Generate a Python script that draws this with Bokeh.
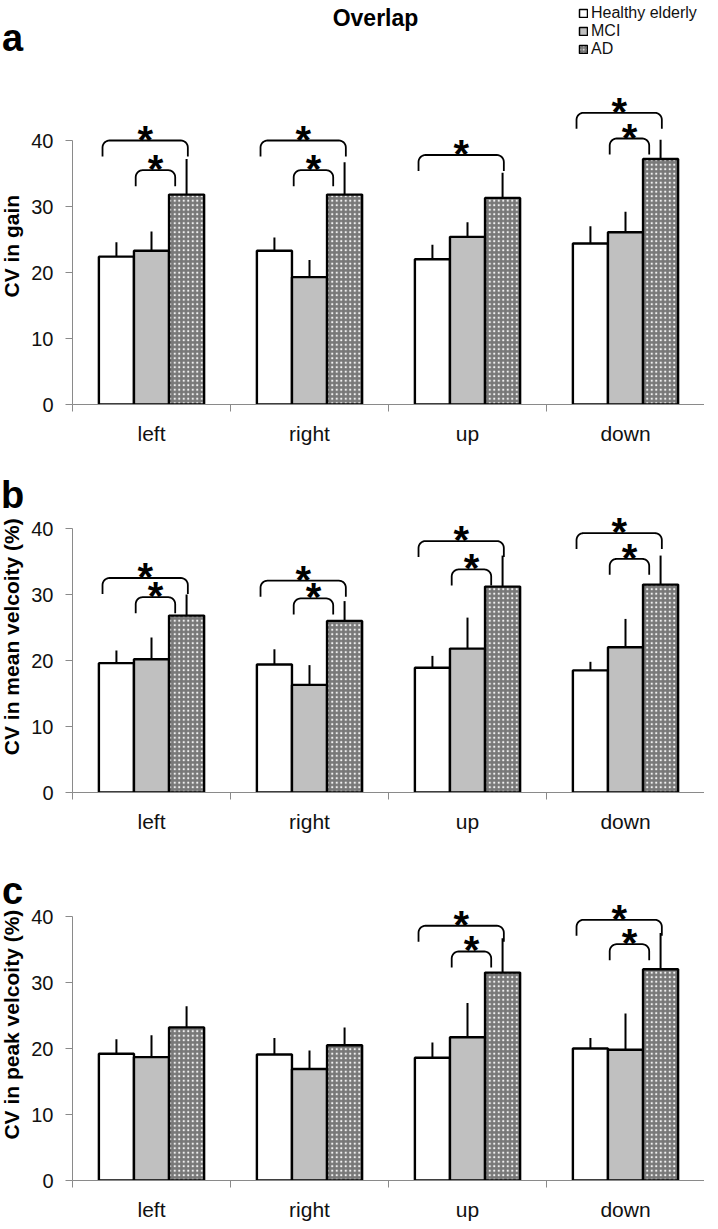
import math
from bokeh.plotting import figure
from bokeh.models import (ColumnDataSource, LinearAxis, FixedTicker, Range1d,
                          Label, Legend, LegendItem)
from bokeh.layouts import column, row
from bokeh.embed import file_html
from bokeh.resources import INLINE
from bokeh.core.properties import value

# ---------------- data ----------------
directions = ["left", "right", "up", "down"]
groups = ["Healthy elderly", "MCI", "AD"]
y_ticks = [0, 10, 20, 30, 40]

# panel a: CV in gain
gain_healthy = [22.4, 23.3, 22.0, 24.4]
gain_healthy_err = [2.2, 2.0, 2.2, 2.6]
gain_mci = [23.3, 19.3, 25.4, 26.1]
gain_mci_err = [2.9, 2.6, 2.2, 3.1]
gain_ad = [31.8, 31.8, 31.3, 37.2]
gain_ad_err = [5.4, 4.9, 3.8, 2.9]
gain_outer_dir = ["left", "right", "up", "down"]
gain_outer_y = [40.0, 40.0, 37.8, 44.2]
gain_inner_dir = ["left", "right", "down"]
gain_inner_y = [35.5, 35.5, 40.3]

# panel b: CV in mean velocity
mean_healthy = [19.6, 19.4, 18.9, 18.5]
mean_healthy_err = [1.9, 2.3, 1.8, 1.3]
mean_mci = [20.2, 16.3, 21.8, 22.0]
mean_mci_err = [3.3, 3.0, 4.7, 4.3]
mean_ad = [26.8, 26.0, 31.2, 31.5]
mean_ad_err = [3.2, 3.0, 4.7, 4.4]
mean_outer_dir = ["left", "right", "up", "down"]
mean_outer_y = [32.5, 32.1, 38.1, 39.3]
mean_inner_dir = ["left", "right", "up", "down"]
mean_inner_y = [29.6, 29.4, 33.8, 35.4]

# panel c: CV in peak velocity
peak_healthy = [19.2, 19.1, 18.6, 20.0]
peak_healthy_err = [2.2, 2.5, 2.3, 1.6]
peak_mci = [18.7, 16.9, 21.7, 19.8]
peak_mci_err = [3.3, 2.8, 5.2, 5.5]
peak_ad = [23.2, 20.5, 31.5, 32.0]
peak_ad_err = [3.2, 2.7, 5.2, 5.5]
peak_outer_dir = ["up", "down"]
peak_outer_y = [38.6, 39.5]
peak_inner_dir = ["up", "down"]
peak_inner_y = [34.7, 35.8]

# ---------------- style ----------------
LEFT_W = 28          # narrow figure holding the panel letter and y title
FRAME_W = 632
BORDER_L = 42
PX_X = FRAME_W / 4.0
PX_Y = 6.6
BAR_W = 0.222
OFFSETS = [-BAR_W, 0.0, BAR_W]
FILLS = ["white", "#c0c0c0", "#787878"]
HATCH = [None, None, "dot"]
AXIS_GRAY = "#8a8a8a"
FONT = "Liberation Sans"
OUTER_SPAN = (-0.31, 0.23)
INNER_SPAN = (-0.10, 0.15)
R_PX = 7.0
DROP_PX = 16.0
NAN = float("nan")


def bracket_path(xc, span, top):
    x0, x1 = xc + span[0], xc + span[1]
    rx, ry, drop = R_PX / PX_X, R_PX / PX_Y, DROP_PX / PX_Y
    xs, ys = [x0], [top - drop]
    n = 8
    for k in range(n + 1):
        t = math.pi - (math.pi / 2) * k / n
        xs.append(x0 + rx + rx * math.cos(t))
        ys.append(top - ry + ry * math.sin(t))
    for k in range(n + 1):
        t = math.pi / 2 - (math.pi / 2) * k / n
        xs.append(x1 - rx + rx * math.cos(t))
        ys.append(top - ry + ry * math.sin(t))
    xs.append(x1)
    ys.append(top - drop)
    return xs, ys, (x0 + x1) / 2


def make_side(letter, ylabel, height, top_page, letter_page, ymid_page):
    s = figure(width=LEFT_W, height=height, min_border=0,
               x_range=Range1d(0, LEFT_W), y_range=Range1d(0, height),
               x_axis_type=None, y_axis_type=None,
               output_backend="svg", toolbar_location=None)
    s.outline_line_color = None
    s.background_fill_color = "white"
    s.border_fill_color = "white"
    bottom_page = top_page + height
    s.text(x=[20 - 8], y=[bottom_page - letter_page], text=[letter],
           text_font=value(FONT), text_font_style="bold", text_font_size="38px",
           text_align="center", text_baseline="alphabetic", text_color="black")
    s.text(x=[19 - 8], y=[bottom_page - ymid_page], text=[ylabel],
           text_font=value(FONT), text_font_style="bold", text_font_size="21px",
           text_align="center", text_baseline="middle", angle=math.pi / 2,
           text_color="black")
    return s


def make_panel(means, errs, outer, inner, frame_h, bottom, first=False, frame_top_page=8):
    y_end = frame_h / PX_Y
    p = figure(frame_width=FRAME_W, frame_height=frame_h,
               min_border_left=BORDER_L, min_border_right=0,
               min_border_top=0, min_border_bottom=bottom,
               x_range=Range1d(0, 4), y_range=Range1d(0, y_end),
               x_axis_type=None, y_axis_type=None,
               output_backend="svg", toolbar_location=None)
    p.outline_line_color = None
    p.background_fill_color = "white"
    p.border_fill_color = "white"

    yax = LinearAxis(bounds=(0, 40), ticker=FixedTicker(ticks=y_ticks, minor_ticks=[]))
    yax.axis_line_color = AXIS_GRAY
    yax.major_tick_line_color = AXIS_GRAY
    yax.major_tick_out = 7
    yax.major_tick_in = 0
    yax.minor_tick_line_color = None
    yax.major_label_text_font = FONT
    yax.major_label_text_font_size = "20px"
    yax.major_label_text_color = "#111111"
    yax.major_label_standoff = 12
    p.add_layout(yax, "left")

    centers = [i + 0.5 for i in range(len(directions))]
    bounds_ticks = [float(i) for i in range(len(directions) + 1)]
    xax = LinearAxis(ticker=FixedTicker(ticks=centers, minor_ticks=bounds_ticks))
    xax.major_label_overrides = {c: d for c, d in zip(centers, directions)}
    xax.axis_line_color = AXIS_GRAY
    xax.major_tick_line_color = None
    xax.major_tick_out = 0
    xax.major_tick_in = 0
    xax.minor_tick_line_color = AXIS_GRAY
    xax.minor_tick_out = 7
    xax.minor_tick_in = 0
    xax.major_label_text_font = FONT
    xax.major_label_text_font_size = "21px"
    xax.major_label_text_color = "#111111"
    xax.major_label_standoff = 10
    p.add_layout(xax, "below")

    styles = []
    for g in range(3):
        xs = [c + OFFSETS[g] for c in centers]
        src = ColumnDataSource(dict(x=xs, top=means[g],
                                    etop=[m + e for m, e in zip(means[g], errs[g])]))
        kw = dict(fill_color=FILLS[g], line_color="black", line_width=2.4)
        if HATCH[g]:
            kw.update(hatch_pattern=HATCH[g], hatch_color="white", hatch_scale=4.5,
                      hatch_weight=1.2, hatch_alpha=0.9)
        p.segment(x0="x", y0="top", x1="x", y1="etop", source=src,
                  line_color="black", line_width=2)
        p.vbar(x="x", top="top", bottom=0, width=BAR_W, source=src, **kw)
        styles.append(kw)

    bx, by, sx, sy = [], [], [], []
    for dirs, ys, span in ((outer[0], outer[1], OUTER_SPAN), (inner[0], inner[1], INNER_SPAN)):
        for d, top in zip(dirs, ys):
            xc = directions.index(d) + 0.5
            xs_, ys_, mid = bracket_path(xc, span, top)
            bx.append(xs_)
            by.append(ys_)
            sx.append(mid)
            sy.append(top)
    if bx:
        p.multi_line(xs=bx, ys=by, line_color="black", line_width=1.8)
        p.text(x=sx, y=sy, text=["*"] * len(sx), text_font=value(FONT),
               text_font_style="bold", text_font_size="40px", text_align="center",
               text_baseline="alphabetic", y_offset=-1, text_color="black")

    frame_bottom_page = frame_top_page + frame_h
    frame_left_page = 8 + LEFT_W + BORDER_L

    if first:
        p.add_layout(Label(x=381 - frame_left_page, y=frame_bottom_page - 25,
                           x_units="screen", y_units="screen", text="Overlap",
                           text_font=FONT, text_font_size="23px", text_font_style="bold",
                           text_align="center", text_baseline="alphabetic",
                           text_color="black"))
        items = []
        for g in range(3):
            kw2 = dict(styles[g])
            kw2["line_width"] = 1.5
            if "hatch_scale" in kw2:
                kw2["hatch_scale"] = 3.5
            rr = p.vbar(x=[NAN], top=[NAN], bottom=0, width=BAR_W, **kw2)
            items.append(LegendItem(label=groups[g], renderers=[rr]))
        leg = Legend(items=items,
                     location=(584 - frame_left_page, frame_bottom_page - 66))
        leg.glyph_width = 10
        leg.glyph_height = 10
        leg.label_standoff = 3
        leg.label_text_font = FONT
        leg.label_text_font_size = "16px"
        leg.label_text_color = "#111111"
        leg.label_height = 15
        leg.spacing = 0
        leg.padding = 0
        leg.margin = 0
        leg.border_line_color = None
        leg.background_fill_alpha = 0
        p.add_layout(leg)
    return p


def panel_row(letter, ylabel, means, errs, outer, inner, frame_h, bottom,
              top_page, letter_page, first=False):
    main = make_panel(means, errs, outer, inner, frame_h, bottom, first, top_page)
    ymid_page = top_page + frame_h - 20 * PX_Y
    side = make_side(letter, ylabel, frame_h + bottom, top_page, letter_page, ymid_page)
    return row(side, main)


ra = panel_row("a", "CV in gain", [gain_healthy, gain_mci, gain_ad],
               [gain_healthy_err, gain_mci_err, gain_ad_err],
               (gain_outer_dir, gain_outer_y), (gain_inner_dir, gain_inner_y),
               frame_h=404, bottom=40, top_page=8, letter_page=50, first=True)
rb = panel_row("b", "CV in mean velcoity (%)", [mean_healthy, mean_mci, mean_ad],
               [mean_healthy_err, mean_mci_err, mean_ad_err],
               (mean_outer_dir, mean_outer_y), (mean_inner_dir, mean_inner_y),
               frame_h=345, bottom=40, top_page=452, letter_page=505)
rc = panel_row("c", "CV in peak velcoity (%)", [peak_healthy, peak_mci, peak_ad],
               [peak_healthy_err, peak_mci_err, peak_ad_err],
               (peak_outer_dir, peak_outer_y), (peak_inner_dir, peak_inner_y),
               frame_h=345, bottom=39, top_page=837, letter_page=899)

layout = column(ra, rb, rc)
open("out.html", "w").write(file_html(layout, INLINE))
